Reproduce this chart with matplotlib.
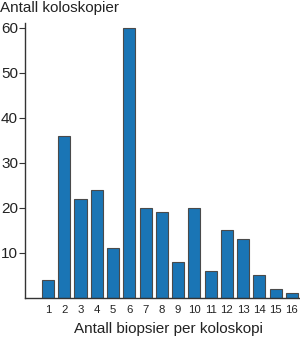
import numpy as np
import matplotlib.pyplot as plt

plt.rcParams['font.family'] = ['Liberation Sans', 'DejaVu Sans']

# Data
biopsier = list(range(1, 17))
koloskopier = [4, 36, 22, 24, 11, 60, 20, 19, 8, 20, 6, 15, 13, 5, 2, 1]

fig = plt.figure(figsize=(3.0, 3.39), dpi=100)
ax = fig.add_axes([0.083, 0.121, 0.917, 0.81])

ax.bar(biopsier, koloskopier, width=0.74, color='#1a75b5',
       edgecolor='#4a4a4a', linewidth=0.8, zorder=2)

ax.set_xlim(-0.42, 16.5)
ax.set_ylim(0, 61)
ax.set_yticks([10, 20, 30, 40, 50, 60])
ax.set_xticks(biopsier)

for side in ('top', 'right'):
    ax.spines[side].set_visible(False)
for side in ('left', 'bottom'):
    ax.spines[side].set_color('#333333')
    ax.spines[side].set_linewidth(1.0)

ax.tick_params(axis='y', length=4, width=0.8, color='#333333',
               labelsize=11, pad=1, labelcolor='#222222')
ax.tick_params(axis='x', length=0, labelsize=8.2, pad=5, labelcolor='#222222')

fig.text(0.0, 0.975, 'Antall koloskopier', fontsize=11, color='#222222',
         ha='left', va='center')
fig.text(0.563, 0.03, 'Antall biopsier per koloskopi', fontsize=11,
         color='#222222', ha='center', va='center')

fig.savefig('out.png', dpi=100)
